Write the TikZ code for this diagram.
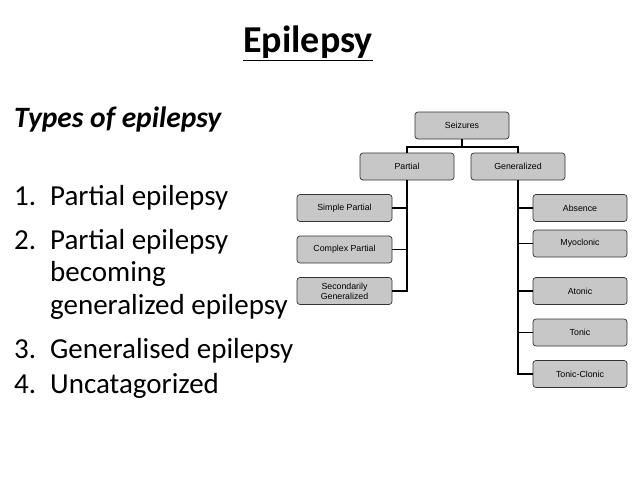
\documentclass[tikz,border=0pt]{standalone}
\usepackage{fontspec}
\setmainfont{Carlito}
\newfontfamily\arialf{Liberation Sans}
\begin{document}
\begin{tikzpicture}[x=1pt,y=-1pt,
  box/.style={draw=black!80,line width=0.7pt,fill=black!22,rounded corners=3pt,minimum width=94pt,minimum height=27pt,inner sep=1pt,align=center,font=\arialf\fontsize{8.8}{10}\selectfont},
  con/.style={line width=1.4pt,black}]
\useasboundingbox (0,0) rectangle (638,479);
\node[font=\bfseries\fontsize{38}{42}\selectfont] (t) at (308,43) {\underline{Epilepsy}};
\node[anchor=base west,inner sep=0pt,font=\bfseries\itshape\fontsize{29.5}{34}\selectfont] (ty) at (14,127) {Types of epilepsy};
\begin{scope}[every node/.style={anchor=base west,inner sep=0pt,font=\fontsize{29}{34}\selectfont}]
\node (n1) at (14,205) {1.};
\node (l1) at (50,205) {Partial epilepsy};
\node (n2) at (14,249) {2.};
\node (l2) at (50,249) {Partial epilepsy};
\node (l2b) at (50,281) {becoming};
\node (l2c) at (50,314) {generalized epilepsy};
\node (n3) at (14,358) {3.};
\node (l3) at (50,358) {Generalised epilepsy};
\node (n4) at (14,393) {4.};
\node (l4) at (50,393) {Uncatagorized};
\end{scope}
\node[box] (s) at (462,125.5) {Seizures};
\node[box] (p) at (407,166.5) {Partial};
\node[box] (g) at (518,166.5) {Generalized};
\node[box,minimum width=95pt] (sp) at (344.5,208) {Simple Partial};
\node[box,minimum width=95pt] (cp) at (344.5,249.5) {Complex Partial};
\node[box,minimum width=95pt] (sg) at (344.5,291) {Secondarily\\Generalized};
\node[box] (ab) at (580,208) {Absence};
\node[box] (my) at (580,243.5) {Myoclonic};
\node[box] (at) at (580,291) {Atonic};
\node[box] (to) at (580,332.5) {Tonic};
\node[box] (tc) at (580,374) {Tonic-Clonic};
\coordinate (j) at (462,147);
\draw[con] (s.south) -- (j);
\draw[con] (p.north) |- (j) -| (g.north);
\draw[con] (p.south) |- (sg.east);
\draw[con] (sp.east) -- (sp.east -| p.south);
\draw[con] (cp.east) -- (cp.east -| p.south);
\draw[con] (g.south) |- (tc.west);
\foreach \n in {ab,my,at,to} \draw[con] (\n.west) -- (\n.west -| g.south);
\end{tikzpicture}
\end{document}
